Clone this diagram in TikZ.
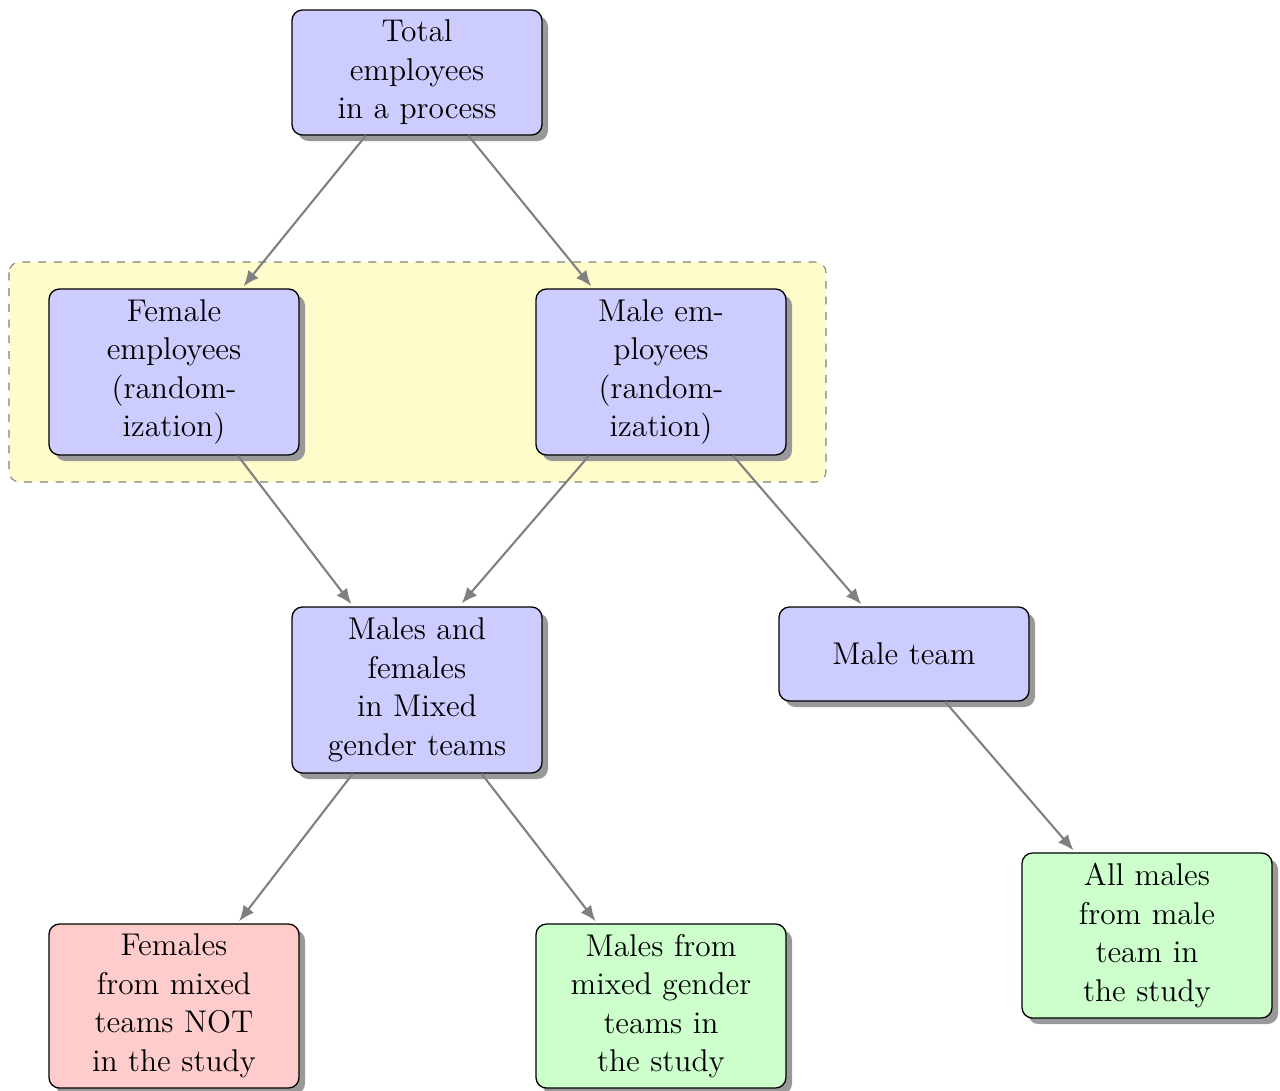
\documentclass[12pt,tikz,border=0pt]{standalone}
\usetikzlibrary{shadows,arrows.meta,backgrounds,calc}
\begin{document}
\begin{tikzpicture}[x=0.3816pt,y=-0.3816pt,
  box/.style={draw=black,line width=0.5pt,rounded corners=4pt,fill=blue!20,
    drop shadow={shadow xshift=2.3pt,shadow yshift=-2.3pt,fill=black!40,opacity=1},
    minimum width=95.4pt,text width=85pt,align=center,inner sep=2pt,
    font=\fontsize{12}{14.7}\selectfont},
  good/.style={box,fill=green!20},
  bad/.style={box,fill=red!20},
  conn/.style={draw=gray,thick,-{Latex[length=6pt,width=5pt]},shorten >=1pt}]
\useasboundingbox (0,0) rectangle (1280,1090);
\node[box,minimum height=125*0.3816pt] (total) at (417,72.5) {Total\\employees\\in a process};
\node[box,minimum height=166*0.3816pt] (female) at (174,372) {Female\\employees\\(random-\\ization)};
\node[box,minimum height=166*0.3816pt] (male) at (661,372) {Male em-\\ployees\\(random-\\ization)};
\node[box,minimum height=166*0.3816pt] (mixed) at (417,690) {Males and\\females\\in Mixed\\gender teams};
\node[box,minimum height=94*0.3816pt] (mteam) at (904,654) {Male team};
\node[bad,minimum height=164*0.3816pt] (fnot) at (174,1006) {Females\\from mixed\\teams NOT\\in the study};
\node[good,minimum height=164*0.3816pt] (mmix) at (661,1006) {Males from\\mixed gender\\teams in\\the study};
\node[good,minimum height=165*0.3816pt] (mall) at (1147,935.5) {All males\\from male\\team in\\the study};
\coordinate (bgA) at (9,262);
\coordinate (bgB) at (826,482);
\begin{scope}[on background layer]
\draw[gray,dashed,fill=yellow!20,rounded corners=4pt] (bgA) rectangle (bgB);
\end{scope}
\coordinate (mixin) at ($(mixed.north)+(43,-1)$);
\draw[conn] (total) -- (female);
\draw[conn] (total) -- (male);
\draw[conn] (female) -- (mixed);
\draw[conn] (male) -- (mixin);
\draw[conn] (male) -- (mteam);
\draw[conn] (mixed) -- (fnot);
\draw[conn] (mixed) -- (mmix);
\draw[conn] (mteam) -- (mall);
\end{tikzpicture}
\end{document}
